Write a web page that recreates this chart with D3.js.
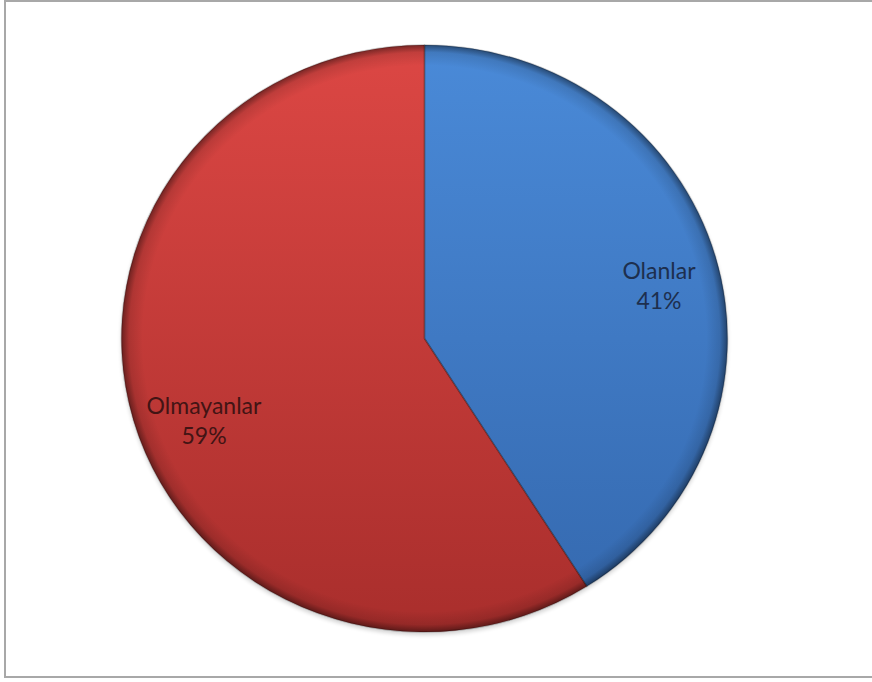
<!DOCTYPE html>
<html>
<head>
<meta charset="utf-8">
<script src="https://cdn.jsdelivr.net/npm/d3@7"></script>
<style>
  html, body { margin: 0; padding: 0; background: #fff; }
  svg { display: block; }
</style>
</head>
<body>
<svg id="chart" width="872" height="682"></svg>
<script>
// Share of respondents
const categories = ["Olanlar", "Olmayanlar"];
const values = [41, 59];
const percentLabels = ["41%", "59%"];
const colorsTop = ["#4a8ad8", "#dc4744"];
const colorsBottom = ["#3468ae", "#a92e2c"];
const textColors = ["#1d2f4e", "#421414"];

const svg = d3.select("#chart");
const W = 872, H = 682;
const cx = 424.5, cy = 338.5;
const rx = 303, ry = 293.5;

// Outer frame
svg.append("rect")
  .attr("x", 5).attr("y", 1)
  .attr("width", W + 10).attr("height", H - 6)
  .attr("fill", "#fff")
  .attr("stroke", "#a8a8a8").attr("stroke-width", 2);

const defs = svg.append("defs");

// Per-slice vertical shading
categories.forEach((c, i) => {
  const g = defs.append("linearGradient")
    .attr("id", "fill" + i)
    .attr("gradientUnits", "userSpaceOnUse")
    .attr("x1", 0).attr("y1", -rx).attr("x2", 0).attr("y2", rx);
  g.append("stop").attr("offset", "0%").attr("stop-color", colorsTop[i]);
  g.append("stop").attr("offset", "100%").attr("stop-color", colorsBottom[i]);
});

// Rim darkening for the bevelled edge
const rim = defs.append("radialGradient")
  .attr("id", "rim")
  .attr("gradientUnits", "userSpaceOnUse")
  .attr("cx", 0).attr("cy", 0).attr("r", rx);
rim.append("stop").attr("offset", "0.93").attr("stop-color", "#000").attr("stop-opacity", 0);
rim.append("stop").attr("offset", "0.975").attr("stop-color", "#000").attr("stop-opacity", 0.12);
rim.append("stop").attr("offset", "1").attr("stop-color", "#000").attr("stop-opacity", 0.45);

const pie = d3.pie().sort(null).value(d => d)(values);
const arc = d3.arc().innerRadius(0).outerRadius(rx);

const g = svg.append("g")
  .attr("transform", `translate(${cx},${cy}) scale(1,${ry / rx})`);

// soft shadow under the pie
defs.append("filter").attr("id", "shadow")
  .attr("x", "-10%").attr("y", "-10%").attr("width", "120%").attr("height", "120%")
  .append("feGaussianBlur").attr("stdDeviation", 2);
g.append("circle")
  .attr("cx", 0).attr("cy", 3).attr("r", rx)
  .attr("fill", "#000").attr("opacity", 0.18)
  .attr("filter", "url(#shadow)");

g.selectAll("path.slice")
  .data(pie)
  .join("path")
  .attr("class", "slice")
  .attr("d", arc)
  .attr("fill", (d, i) => `url(#fill${i})`);

// bevel overlay
g.selectAll("path.rim")
  .data(pie)
  .join("path")
  .attr("class", "rim")
  .attr("d", arc)
  .attr("fill", "url(#rim)");

// slice separators
g.selectAll("path.sep")
  .data(pie)
  .join("path")
  .attr("class", "sep")
  .attr("d", arc)
  .attr("fill", "none")
  .attr("stroke", "#000")
  .attr("stroke-opacity", 0.22)
  .attr("stroke-width", 1.5)
  .attr("stroke-linejoin", "round");

// Labels
const labelArc = d3.arc().innerRadius(240).outerRadius(240);
const labels = svg.append("g");
pie.forEach((d, i) => {
  const [lx, ly] = labelArc.centroid(d);
  const x = cx + lx + (i === 1 ? 10 : 4);
  const y = cy + ly * (ry / rx) + (i === 1 ? 18 : 12);
  const t = labels.append("text")
    .attr("x", x).attr("y", y)
    .attr("text-anchor", "middle")
    .attr("font-family", "Lato, 'Open Sans', sans-serif")
    .attr("font-size", 23)
    .attr("fill", textColors[i]);
  t.append("tspan").attr("x", x).attr("dy", "-0.3em").text(categories[i]);
  t.append("tspan").attr("x", x).attr("dy", "1.3em").text(percentLabels[i]);
});
</script>
</body>
</html>
